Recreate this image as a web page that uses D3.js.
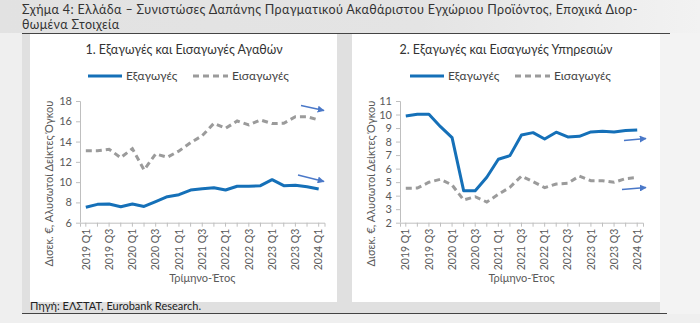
<!DOCTYPE html>
<html><head><meta charset="utf-8">
<script src="https://cdn.jsdelivr.net/npm/d3@7"></script>
<style>
html,body{margin:0;padding:0;background:#ececec;}
svg{display:block;font-family:Lato, "Open Sans", sans-serif;}
</style></head><body>
<svg id="c" width="700" height="323"></svg>
<script>
const quarters = ["2019 Q1","2019 Q2","2019 Q3","2019 Q4","2020 Q1","2020 Q2","2020 Q3","2020 Q4",
"2021 Q1","2021 Q2","2021 Q3","2021 Q4","2022 Q1","2022 Q2","2022 Q3","2022 Q4",
"2023 Q1","2023 Q2","2023 Q3","2023 Q4","2024 Q1"];
const tickLabels = quarters.filter((d,i)=>i%2===0);
const goodsExports = [7.52,7.81,7.84,7.58,7.84,7.6,8.07,8.56,8.76,9.22,9.35,9.45,9.22,9.59,9.59,9.65,10.24,9.65,9.7,9.55,9.32];
const goodsImports = [13.1,13.1,13.24,12.41,13.3,11.2,12.78,12.45,13.07,13.89,14.58,15.8,15.3,16.03,15.64,16.13,15.77,15.8,16.45,16.45,16.13];
const servExports = [9.89,10.02,10.02,9.1,8.29,4.37,4.37,5.36,6.69,6.96,8.49,8.66,8.19,8.69,8.34,8.39,8.71,8.76,8.71,8.81,8.86];
const servImports = [4.54,4.56,4.99,5.21,4.79,3.68,3.92,3.53,4.1,4.62,5.45,5.03,4.59,4.86,4.91,5.45,5.11,5.11,4.99,5.26,5.34];
const goodsTicks = [6,8,10,12,14,16,18];
const servTicks = [2,3,4,5,6,7,8,9,10,11];
const seriesNames = ["Εξαγωγές","Εισαγωγές"];
const titleText1 = "Σχήμα 4: Ελλάδα – Συνιστώσες Δαπάνης Πραγματικού Ακαθάριστου Εγχώριου Προϊόντος, Εποχικά Διορ-";
const titleText2 = "θωμένα Στοιχεία";
const sourceText = "Πηγή: ΕΛΣΤΑΤ, Eurobank Research.";
const yTitle = "Δισεκ. €, Αλυσωτοί Δείκτες Όγκου";
const xTitle = "Τρίμηνο-Έτος";

const BLUE="#1570b8", GREY="#9b9b9b", ARROW="#4a78c8", TXT="#595959";
const svg = d3.select("#c");
const defs = svg.append("defs");
defs.append("marker").attr("id","ah").attr("viewBox","0 0 10 10").attr("refX",9).attr("refY",5)
  .attr("markerWidth",7).attr("markerHeight",7).attr("markerUnits","userSpaceOnUse").attr("orient","auto")
  .append("path").attr("d","M0,0L10,5L0,10z").attr("fill",ARROW);
const tg = defs.append("linearGradient").attr("id","tg").attr("x1",0).attr("x2",1);
tg.append("stop").attr("offset","0").attr("stop-color","#e2e2e2");
tg.append("stop").attr("offset","0.6").attr("stop-color","#e4e4e4");
tg.append("stop").attr("offset","1").attr("stop-color","#f2f2f2");

// backgrounds
svg.append("rect").attr("x",0).attr("y",0).attr("width",700).attr("height",323).attr("fill","#efefef");
svg.append("rect").attr("x",0).attr("y",0).attr("width",700).attr("height",33).attr("fill","url(#tg)");
svg.append("rect").attr("x",22).attr("y",33).attr("width",645).attr("height",281).attr("fill","#e0e0e0");
svg.append("rect").attr("x",30).attr("y",34).attr("width",307).attr("height",268).attr("fill","#ffffff");
svg.append("rect").attr("x",352).attr("y",34).attr("width",308).attr("height",268).attr("fill","#ffffff");
svg.append("rect").attr("x",660).attr("y",33).attr("width",40).attr("height",281).attr("fill","#f3f3f3");

svg.append("text").attr("x",22).attr("y",14).attr("font-size",12.5).attr("letter-spacing",0.35).attr("fill","#333").text(titleText1);
svg.append("text").attr("x",22).attr("y",29).attr("font-size",12.5).attr("letter-spacing",0.35).attr("fill","#333").text(titleText2);
svg.append("line").attr("x1",22).attr("x2",670).attr("y1",33.5).attr("y2",33.5).attr("stroke","#444").attr("stroke-width",1.2);
svg.append("line").attr("x1",22).attr("x2",667).attr("y1",313.5).attr("y2",313.5).attr("stroke","#444").attr("stroke-width",1.2);
svg.append("text").attr("x",30).attr("y",310).attr("font-size",11).attr("fill","#222").text(sourceText);

function panel(cfg){
  const g = svg.append("g");
  const x = d3.scaleBand().domain(quarters).range([cfg.x0,cfg.x1]);
  const y = d3.scaleLinear().domain(cfg.domain).range([222.7,101]);
  const cx = d=>x(d)+x.bandwidth()/2;
  g.append("text").attr("x",cfg.cx).attr("y",54).attr("text-anchor","middle").attr("font-size",12.5).attr("fill","#333").text(cfg.title);
  // legend
  const ly=76;
  g.append("line").attr("x1",cfg.lx).attr("x2",cfg.lx+34).attr("y1",ly).attr("y2",ly).attr("stroke",BLUE).attr("stroke-width",3);
  g.append("text").attr("x",cfg.lx+38).attr("y",ly+4).attr("font-size",12).attr("fill","#444").text(seriesNames[0]);
  g.append("line").attr("x1",cfg.lx+105).attr("x2",cfg.lx+140).attr("y1",ly).attr("y2",ly).attr("stroke",GREY).attr("stroke-width",3).attr("stroke-dasharray","6,4");
  g.append("text").attr("x",cfg.lx+144).attr("y",ly+4).attr("font-size",12).attr("fill","#444").text(seriesNames[1]);
  // axes
  const ya = g.append("g").attr("transform",`translate(${cfg.x0},0)`)
    .call(d3.axisLeft(y).tickValues(cfg.ticks).tickSize(4).tickPadding(4).tickFormat(d3.format("d")));
  ya.select(".domain").attr("stroke","#bfbfbf").attr("d",`M-4,${y(cfg.domain[1])+0.5}H0.5V222.7`);
  ya.selectAll(".tick line").attr("stroke","#bfbfbf");
  ya.selectAll("text").attr("font-size",11).attr("fill",TXT).attr("font-family","Lato, sans-serif");
  const xa = g.append("g").attr("transform","translate(0,222.7)")
    .call(d3.axisBottom(x).tickValues(quarters).tickSize(4).tickFormat(d=>tickLabels.includes(d)?d:""));
  xa.select(".domain").attr("stroke","#bfbfbf");
  xa.selectAll(".tick line").attr("stroke","#bfbfbf").attr("y1",0);
  xa.selectAll(".tick text").attr("font-size",10.5).attr("fill",TXT).attr("font-family","Lato, sans-serif")
    .attr("transform","rotate(-90)").attr("text-anchor","end").attr("x",-6).attr("y",0).attr("dy","0.35em");
  // titles
  g.append("text").attr("transform",`translate(${cfg.yt},183.5) rotate(-90)`).attr("text-anchor","middle")
    .attr("font-size",11).attr("fill",TXT).text(yTitle);
  g.append("text").attr("x",(cfg.x0+cfg.x1)/2).attr("y",282).attr("text-anchor","middle").attr("font-size",11).attr("fill",TXT).text(xTitle);
  const line = d3.line().x((d,i)=>cx(quarters[i])).y(d=>y(d));
  g.append("path").datum(cfg.imp).attr("d",line).attr("fill","none").attr("stroke",GREY).attr("stroke-width",3).attr("stroke-dasharray","6,4");
  g.append("path").datum(cfg.exp).attr("d",line).attr("fill","none").attr("stroke",BLUE).attr("stroke-width",3).attr("stroke-linejoin","round");
  cfg.arrows.forEach(a=>{
    g.append("line").attr("x1",a[0]).attr("y1",a[1]).attr("x2",a[2]).attr("y2",a[3]).attr("stroke",ARROW).attr("stroke-width",1.3).attr("marker-end","url(#ah)");
  });
}
panel({x0:80,x1:324.5,domain:[6,18],ticks:goodsTicks,exp:goodsExports,imp:goodsImports,
  title:"1. Εξαγωγές και Εισαγωγές Αγαθών",cx:184,lx:88,yt:53,
  arrows:[[301,105.5,324,110.5],[298,175,324,181.5]]});
panel({x0:400,x1:643,domain:[2,11],ticks:servTicks,exp:servExports,imp:servImports,
  title:"2. Εξαγωγές και Εισαγωγές Υπηρεσιών",cx:506,lx:410,yt:375,
  arrows:[[624,140.5,646,138.5],[622,189.5,646,187.5]]});
</script></body></html>
